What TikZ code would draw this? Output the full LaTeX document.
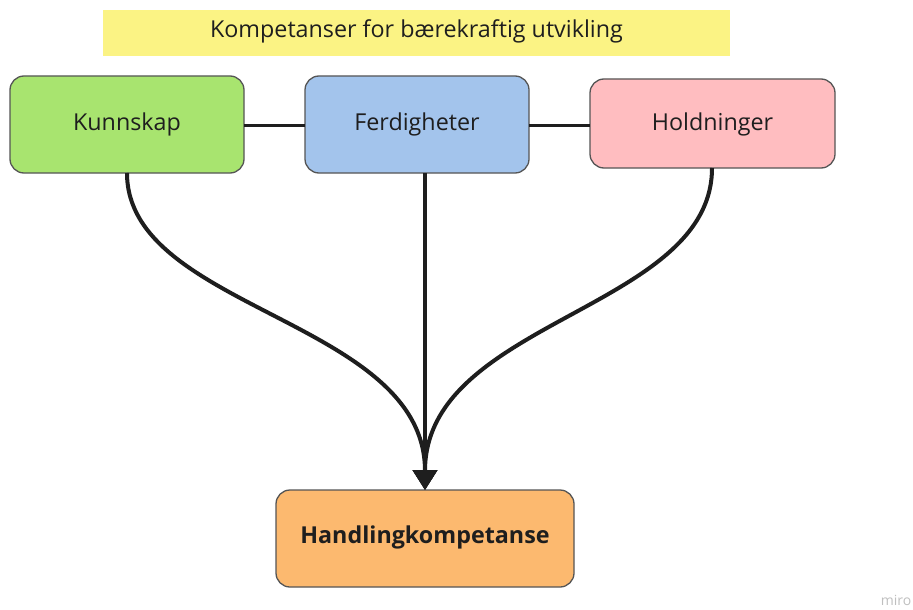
\documentclass[tikz,border=0pt]{standalone}
\usepackage{fontspec}
\setmainfont{Open Sans}
\usetikzlibrary{arrows.meta}
\definecolor{cyellow}{HTML}{FBF384}
\definecolor{cgreen}{HTML}{A8E46F}
\definecolor{cblue}{HTML}{A3C4EC}
\definecolor{cpink}{HTML}{FFBDC0}
\definecolor{corange}{HTML}{FCB96F}
\definecolor{cborder}{HTML}{555555}
\definecolor{ctext}{HTML}{1E1E1E}
\tikzset{
  box/.style={draw=cborder, line width=1.3pt, rounded corners=14pt},
  lbl/.style={text=ctext, font=\fontsize{23.3}{26}\selectfont},
  link/.style={line width=3pt, draw=ctext},
  flow/.style={line width=4pt, draw=ctext, -{Triangle[length=20pt,width=24pt]}},
}
\begin{document}
\begin{tikzpicture}[x=1pt,y=-1pt]
\useasboundingbox (0,0) rectangle (913,610);
% title
\fill[cyellow] (103,10) rectangle (730,56);
\node[lbl] (title) at (416.5,31.5) {Kompetanser for bærekraftig utvikling};
% boxes
\draw[box, fill=cgreen] (10,76) rectangle (244,173);
\node[lbl] (kunn) at (127,124.5) {Kunnskap};
\coordinate (kunnR) at (244,125);
\coordinate (kunnB) at (127,173);
\draw[box, fill=cblue] (305,76) rectangle (529,173);
\node[lbl] (ferd) at (417,124.5) {Ferdigheter};
\coordinate (ferdL) at (305,125);
\coordinate (ferdR) at (529,125);
\coordinate (ferdB) at (425,173);
\draw[box, fill=cpink] (590,79) rectangle (835,168);
\node[lbl] (hold) at (712.5,124.5) {Holdninger};
\coordinate (holdL) at (590,125);
\coordinate (holdB) at (712,168);
\draw[box, fill=corange] (276,490) rectangle (574,587);
\node[lbl, font=\bfseries\fontsize{23.3}{26}\selectfont] (hand) at (425,537) {Handlingkompetanse};
\coordinate (handT) at (425,490);
% links
\draw[link] (kunnR) -- (ferdL);
\draw[link] (ferdR) -- (holdL);
% flows
\draw[flow] (kunnB) .. controls (127,310) and (425,320) .. (handT);
\draw[flow] (holdB) .. controls (712,310) and (425,320) .. (handT);
\draw[flow] (ferdB) -- (handT);
% watermark
\node[text=black!25, font=\fontsize{14}{15}\selectfont] (miro) at (896,600) {miro};
\end{tikzpicture}
\end{document}
